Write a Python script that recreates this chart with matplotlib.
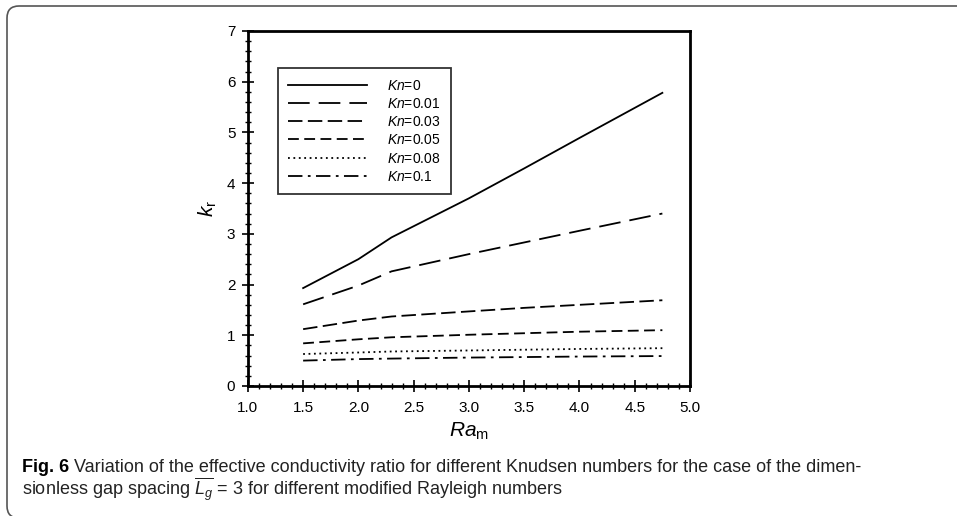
import matplotlib
matplotlib.use('Agg')
import matplotlib.pyplot as plt
from matplotlib.patches import FancyBboxPatch
from matplotlib.ticker import MultipleLocator, FormatStrFormatter

# Datos
ra_m = [1.5, 2.0, 2.3, 3.0, 3.5, 4.0, 4.75]
kn_labels = ['0', '0.01', '0.03', '0.05', '0.08', '0.1']
kr_kn0 = [1.93, 2.50, 2.93, 3.70, 4.29, 4.89, 5.78]
kr_kn001 = [1.61, 1.98, 2.26, 2.60, 2.83, 3.06, 3.40]
kr_kn003 = [1.12, 1.29, 1.37, 1.47, 1.54, 1.60, 1.69]
kr_kn005 = [0.84, 0.92, 0.96, 1.01, 1.04, 1.07, 1.10]
kr_kn008 = [0.63, 0.66, 0.68, 0.70, 0.715, 0.73, 0.745]
kr_kn01 = [0.50, 0.53, 0.54, 0.56, 0.57, 0.58, 0.59]

series = [kr_kn0, kr_kn001, kr_kn003, kr_kn005, kr_kn008, kr_kn01]
estilos = ['-', (0, (12, 5)), (0, (8, 3)), (0, (6, 3)), (0, (1, 2)), (0, (8, 3, 1.5, 3))]

plt.rcParams['font.family'] = ['Liberation Sans', 'DejaVu Sans']
plt.rcParams['mathtext.fontset'] = 'custom'
plt.rcParams['mathtext.rm'] = 'Liberation Sans'
plt.rcParams['mathtext.it'] = 'Liberation Sans:italic'

fig = plt.figure(figsize=(9.57, 5.16), dpi=100)
ax = fig.add_axes([0.259, 0.252, 0.462, 0.688])

for y, ls, lab in zip(series, estilos, kn_labels):
    ax.plot(ra_m, y, color='black', lw=1.3, linestyle=ls, label=r'$\mathit{Kn}$=' + lab)

ax.set_xlim(1.0, 5.0)
ax.set_ylim(0, 7)
ax.xaxis.set_major_locator(MultipleLocator(0.5))
ax.xaxis.set_minor_locator(MultipleLocator(0.1))
ax.yaxis.set_major_locator(MultipleLocator(1))
ax.yaxis.set_minor_locator(MultipleLocator(0.2))
ax.xaxis.set_major_formatter(FormatStrFormatter('%.1f'))
ax.tick_params(which='major', direction='inout', length=8, width=1.2, labelsize=11)
ax.tick_params(axis='x', which='major', pad=7)
ax.tick_params(axis='y', which='major', pad=5)
ax.tick_params(which='minor', direction='inout', length=5, width=1)
for s in ax.spines.values():
    s.set_linewidth(2)

ax.set_xlabel(r'$\mathit{Ra}_{\rm m}$', fontsize=15, labelpad=4)
ax.set_ylabel(r'$\mathit{k}_{\rm r}$', fontsize=15, labelpad=6)

leg = ax.legend(loc='upper left', bbox_to_anchor=(0.052, 0.914), fontsize=10,
                frameon=True, fancybox=False, edgecolor='black', handlelength=5.7,
                handletextpad=1.4, labelspacing=0.3, borderpad=0.75)
leg.get_frame().set_linewidth(1.3)

# Marco redondeado de la figura
marco = FancyBboxPatch((0.07, -0.02), 20, 5.12, boxstyle='round,pad=0,rounding_size=0.12',
                       transform=fig.dpi_scale_trans, fill=False, edgecolor='#555555', lw=1.2)
fig.patches.append(marco)

cap_font = ['Liberation Sans Narrow', 'Liberation Sans']
fig.text(22 / 957, 1 - 468 / 516, 'Fig. 6', fontsize=13, fontweight='bold', va='center',
         family=cap_font)
fig.text(74 / 957, 1 - 468 / 516,
         'Variation of the effective conductivity ratio for different Knudsen numbers for the case of the dimen-',
         fontsize=13, va='center', family=cap_font, color='#222222')
fig.text(22 / 957, 1 - 489 / 516,
         r'sionless gap spacing $\overline{L_g}$ = 3 for different modified Rayleigh numbers',
         fontsize=13, va='center', family=cap_font, color='#222222')

fig.savefig('out.png', dpi=100)
